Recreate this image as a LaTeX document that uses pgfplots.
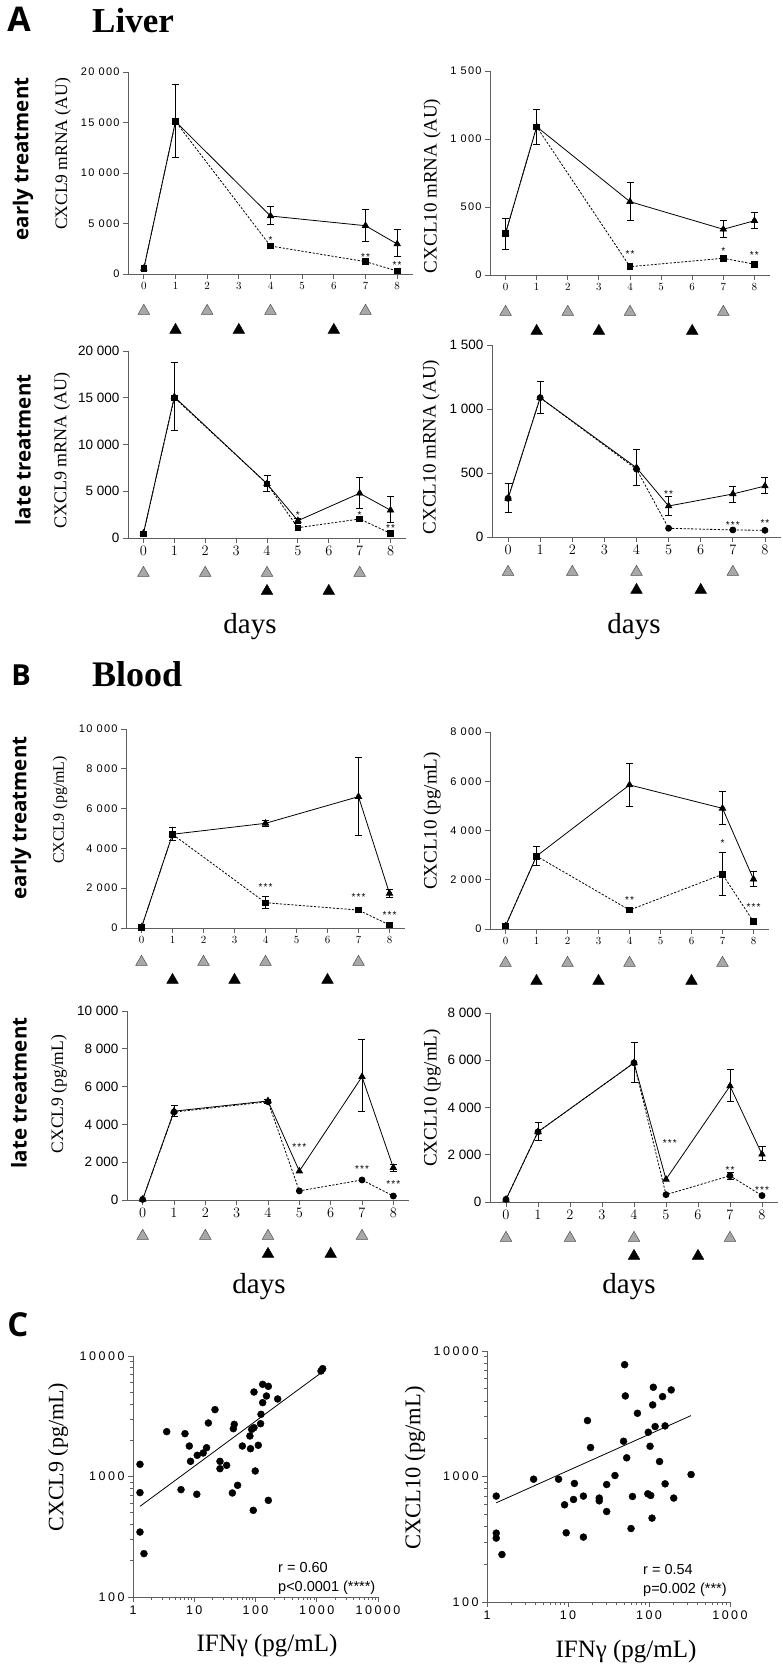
\documentclass[border=0pt]{standalone}
\usepackage{pgfplots}
\pgfplotsset{compat=1.18}
\usepackage{fontspec}
\setmainfont{Liberation Sans}
\newfontfamily\serif{Liberation Serif}
\newfontfamily\spaced[LetterSpace=11]{Liberation Sans}
\newfontfamily\spacedb[LetterSpace=20]{Liberation Sans}
\newfontfamily\osans{Open Sans}
\definecolor{axgray}{RGB}{95,95,95}
\definecolor{trifill}{RGB}{168,168,168}
\definecolor{tridraw}{RGB}{80,80,80}
\newcommand{\starfont}{\spaced\fontsize{10}{10}\selectfont}
\newcommand{\st}[4]{\node[font=\starfont, inner sep=0pt, yshift=#3pt] at (axis cs:#1,#2) {#4};}
\pgfplotsset{
  base/.style={scale only axis, anchor=south west, axis x line*=bottom, axis y line*=left,
    axis line style={draw=axgray, line width=0.9pt, -}, tick style={draw=axgray, line width=0.8pt},
    tick align=outside, major tick length=5pt, minor tick length=3pt, clip=false, scaled ticks=false},
  tc/.style={base, xmin=-0.5, xmax=8.5, ymin=0, xtick={0,...,8}, minor tick num=0},
  early/.style={tick label style={font=\spaced\fontsize{11}{12}\selectfont}},
  late/.style={tick label style={font=\fontsize{13.5}{15}\selectfont}},
  solidser/.style={black, line width=0.8pt, mark=triangle*, mark size=3.6pt, mark options={solid, fill=black}},
  dashsq/.style={black, line width=0.8pt, dash pattern=on 2.2pt off 1.6pt, mark=square*, mark size=2.8pt, mark options={solid, fill=black}},
  dashci/.style={black, line width=0.8pt, dash pattern=on 2.2pt off 1.6pt, mark=*, mark size=3pt, mark options={solid, fill=black}},
  ebar/.style={only marks, mark=none, error bars/.cd, y dir=both, y explicit,
    error bar style={black, line width=0.6pt, solid}, error mark options={black, rotate=90, mark size=3.5pt, line width=0.6pt, solid}},
  grayt/.style={only marks, mark=triangle*, mark size=6.7pt, mark options={fill=trifill, draw=tridraw, line width=0.5pt, yshift=-#1pt}},
  blackt/.style={only marks, mark=triangle*, mark size=6.7pt, mark options={fill=black, draw=black, yshift=-#1pt}},
}
\begin{document}
\begin{tikzpicture}[x=1pt,y=1pt]
\useasboundingbox (0,0) rectangle (782,1667);
% ---------------- Headings
\node[font=\osans\bfseries\fontsize{34}{34}\selectfont] at (19,1648) {A};
\node[font=\serif\bfseries\fontsize{35}{35}\selectfont, anchor=base west, inner sep=0pt] at (92,1634) {Liver};
\node[font=\osans\bfseries\fontsize{29}{29}\selectfont] at (21,992) {B};
\node[font=\serif\bfseries\fontsize{36}{36}\selectfont, anchor=base west, inner sep=0pt] at (92,980) {Blood};
\node[font=\osans\bfseries\fontsize{33}{33}\selectfont] at (18,342) {C};
\node[rotate=90, font=\osans\bfseries\fontsize{20.5}{21}\selectfont] at (23,1508) {early treatment};
\node[rotate=90, font=\osans\bfseries\fontsize{20.5}{21}\selectfont] at (23,1217) {late treatment};
\node[rotate=90, font=\osans\bfseries\fontsize{20.5}{21}\selectfont] at (21,849) {early treatment};
\node[rotate=90, font=\osans\bfseries\fontsize{20.5}{21}\selectfont] at (19,574) {late treatment};
% y labels
\node[rotate=90, font=\serif\fontsize{17.5}{18}\selectfont] at (63,1513) {CXCL9 mRNA (AU)};
\node[rotate=90, font=\serif\fontsize{19}{19}\selectfont] at (432,1481) {CXCL10 mRNA (AU)};
\node[rotate=90, font=\serif\fontsize{18}{18}\selectfont] at (62,1216) {CXCL9 mRNA (AU)};
\node[rotate=90, font=\serif\fontsize{19}{19}\selectfont] at (431,1220) {CXCL10 mRNA (AU)};
\node[rotate=90, font=\serif\fontsize{16}{16}\selectfont] at (60,857) {CXCL9 (pg/mL)};
\node[rotate=90, font=\serif\fontsize{19}{19}\selectfont] at (432,846) {CXCL10 (pg/mL)};
\node[rotate=90, font=\serif\fontsize{17.5}{18}\selectfont] at (59,573) {CXCL9 (pg/mL)};
\node[rotate=90, font=\serif\fontsize{19}{19}\selectfont] at (432,569) {CXCL10 (pg/mL)};
\node[rotate=90, font=\serif\fontsize{22}{22}\selectfont] at (58,210) {CXCL9 (pg/mL)};
\node[rotate=90, font=\serif\fontsize{22.5}{23}\selectfont] at (415,199) {CXCL10 (pg/mL)};
% days / x labels
\node[font=\serif\fontsize{29}{29}\selectfont] at (250,1040) {days};
\node[font=\serif\fontsize{29}{29}\selectfont] at (634,1040) {days};
\node[font=\serif\fontsize{29}{29}\selectfont] at (259,380) {days};
\node[font=\serif\fontsize{29}{29}\selectfont] at (629,380) {days};
\node[font=\serif\fontsize{25}{25}\selectfont] at (267,21) {IFNγ (pg/mL)};
\node[font=\serif\fontsize{25}{25}\selectfont] at (626,15) {IFNγ (pg/mL)};
% stats
\node[font=\fontsize{14.5}{15}\selectfont, anchor=base west, inner sep=0pt] at (278,94) {r = 0.60};
\node[font=\fontsize{14.5}{15}\selectfont, anchor=base west, inner sep=0pt] at (278,75) {p<0.0001 (****)};
\node[font=\fontsize{14.5}{15}\selectfont, anchor=base west, inner sep=0pt] at (643,92) {r = 0.54};
\node[font=\fontsize{14.5}{15}\selectfont, anchor=base west, inner sep=0pt] at (643,73) {p=0.002 (***)};

% ================= Liver early CXCL9
\begin{axis}[tc, early, at={(128pt,1393pt)}, width=285pt, height=202pt, ymax=20000,
  ytick={0,5000,10000,15000,20000}, yticklabels={0,5 000,10 000,15 000,20 000}]
\addplot[ebar] coordinates {(1,15100) += (0,3680) -= (0,3590) (4,5740) += (0,920) -= (0,820) (7,4780) += (0,1660) -= (0,1580) (8,2970) += (0,1450) -= (0,1260)};
\addplot[solidser] coordinates {(0,550) (1,15100) (4,5740) (7,4780) (8,2970)};
\addplot[dashsq] coordinates {(0,550) (1,15100) (4,2770) (7,1220) (8,300)};
\addplot[grayt=37] coordinates {(0,0) (2,0) (4,0) (7,0)};
\addplot[blackt=56] coordinates {(1,0) (3,0) (6,0)};
\st{4}{2770}{6}{*}\st{7}{1220}{5}{**}\st{8}{300}{6}{**}
\end{axis}
% ================= Liver early CXCL10
\begin{axis}[tc, early, at={(490pt,1392pt)}, width=280pt, height=204pt, ymax=1500,
  ytick={0,500,1000,1500}, yticklabels={0,500,1 000,1 500}]
\addplot[ebar] coordinates {(0,306) += (0,111) -= (0,117) (1,1090) += (0,130) -= (0,129) (4,539) += (0,142) -= (0,135) (7,336) += (0,63) -= (0,62) (8,399) += (0,64) -= (0,59)};
\addplot[solidser] coordinates {(0,306) (1,1090) (4,539) (7,336) (8,399)};
\addplot[dashsq] coordinates {(0,306) (1,1090) (4,61) (7,123) (8,79)};
\addplot[grayt=37] coordinates {(0,0) (2,0) (4,0) (7,0)};
\addplot[blackt=56] coordinates {(1,0) (3,0) (6,0)};
\st{4}{61}{13}{**}\st{7}{123}{7}{*}\st{8}{79}{9}{**}
\end{axis}
% ================= Liver late CXCL9
\begin{axis}[tc, late, at={(128pt,1129pt)}, width=278pt, height=187pt, ymax=20000,
  ytick={0,5000,10000,15000,20000}, yticklabels={0,5 000,10 000,15 000,20 000}]
\addplot[ebar] coordinates {(1,15100) += (0,3680) -= (0,3590) (4,5800) += (0,870) -= (0,850) (5,1850) += (0,250) -= (0,250) (7,4780) += (0,1660) -= (0,1580) (8,2970) += (0,1450) -= (0,1260)};
\addplot[solidser] coordinates {(0,500) (1,15100) (4,5800) (5,1850) (7,4780) (8,2970)};
\addplot[dashsq] coordinates {(0,450) (1,15000) (4,5800) (5,1100) (7,2030) (8,500)};
\addplot[grayt=35] coordinates {(0,0) (2,0) (4,0) (7,0)};
\addplot[blackt=53] coordinates {(4,0) (6,0)};
\st{5}{1850}{6}{*}\st{7}{2030}{4}{*}\st{8}{500}{5}{**}
\end{axis}
% ================= Liver late CXCL10
\begin{axis}[tc, late, at={(492pt,1130pt)}, width=289pt, height=192pt, ymax=1500,
  ytick={0,500,1000,1500}, yticklabels={0,500,1 000,1 500}]
\addplot[ebar] coordinates {(0,302) += (0,117) -= (0,112) (1,1088) += (0,125) -= (0,122) (4,541) += (0,144) -= (0,135) (5,242) += (0,78) -= (0,70) (7,336) += (0,63) -= (0,62) (8,398) += (0,65) -= (0,58)};
\addplot[solidser] coordinates {(0,302) (1,1088) (4,541) (5,242) (7,336) (8,398)};
\addplot[dashci] coordinates {(0,302) (1,1088) (4,530) (5,68) (7,55) (8,52)};
\addplot[grayt=35] coordinates {(0,0) (2,0) (4,0) (7,0)};
\addplot[blackt=53] coordinates {(4,0) (6,0)};
\st{5}{242}{12}{**}\st{7}{55}{5}{***}\st{8}{52}{7}{**}
\end{axis}
% ================= Blood early CXCL9
\begin{axis}[tc, early, at={(126pt,739pt)}, width=279pt, height=199pt, ymax=10000,
  ytick={0,2000,4000,6000,8000,10000}, yticklabels={0,2 000,4 000,6 000,8 000,10 000}]
\addplot[ebar] coordinates {(1,4710) += (0,330) -= (0,290) (4,5260) += (0,150) -= (0,150) (7,6600) += (0,1960) -= (0,1930) (8,1740) += (0,200) -= (0,200) (4,1270) += (0,300) -= (0,300)};
\addplot[solidser] coordinates {(0,35) (1,4710) (4,5260) (7,6600) (8,1740)};
\addplot[dashsq] coordinates {(0,35) (1,4710) (4,1270) (7,900) (8,150)};
\addplot[grayt=34] coordinates {(0,0) (2,0) (4,0) (7,0)};
\addplot[blackt=52] coordinates {(1,0) (3,0) (6,0)};
\st{4}{1270}{16}{***}\st{7}{900}{13}{***}\st{8}{150}{10}{***}
\end{axis}
% ================= Blood early CXCL10
\begin{axis}[tc, early, at={(490pt,738pt)}, width=279pt, height=197pt, ymax=8000,
  ytick={0,2000,4000,6000,8000}, yticklabels={0,2 000,4 000,6 000,8 000}]
\addplot[ebar] coordinates {(1,2960) += (0,380) -= (0,360) (4,5850) += (0,870) -= (0,860) (7,4900) += (0,680) -= (0,640) (8,2020) += (0,310) -= (0,300) (7,2220) += (0,890) -= (0,870)};
\addplot[solidser] coordinates {(0,120) (1,2960) (4,5850) (7,4900) (8,2020)};
\addplot[dashsq] coordinates {(0,120) (1,2960) (4,770) (7,2220) (8,300)};
\addplot[grayt=34] coordinates {(0,0) (2,0) (4,0) (7,0)};
\addplot[blackt=52] coordinates {(1,0) (3,0) (6,0)};
\st{4}{770}{10}{**}\st{7}{2220}{31}{*}\st{8}{300}{15}{***}
\end{axis}
% ================= Blood late CXCL9
\begin{axis}[tc, late, at={(127pt,467pt)}, width=282pt, height=189pt, ymax=10000,
  ytick={0,2000,4000,6000,8000,10000}, yticklabels={0,2 000,4 000,6 000,8 000,10 000}]
\addplot[ebar] coordinates {(1,4700) += (0,330) -= (0,290) (4,5240) += (0,100) -= (0,100) (7,6520) += (0,1980) -= (0,1850) (8,1710) += (0,200) -= (0,200)};
\addplot[solidser] coordinates {(0,30) (1,4700) (4,5240) (5,1530) (7,6520) (8,1710)};
\addplot[dashci] coordinates {(0,30) (1,4650) (4,5200) (5,480) (7,1060) (8,210)};
\addplot[grayt=36] coordinates {(0,0) (2,0) (4,0) (7,0)};
\addplot[blackt=54] coordinates {(4,0) (6,0)};
\st{5}{1530}{24}{***}\st{7}{1060}{11}{***}\st{8}{210}{12}{***}
\end{axis}
% ================= Blood late CXCL10
\begin{axis}[tc, late, at={(490pt,465pt)}, width=288pt, height=189pt, ymax=8000,
  ytick={0,2000,4000,6000,8000}, yticklabels={0,2 000,4 000,6 000,8 000}]
\addplot[ebar] coordinates {(1,2970) += (0,400) -= (0,350) (4,5890) += (0,860) -= (0,840) (7,4910) += (0,700) -= (0,640) (8,2020) += (0,320) -= (0,270) (7,1110) += (0,150) -= (0,150)};
\addplot[solidser] coordinates {(0,110) (1,2970) (4,5890) (5,960) (7,4910) (8,2020)};
\addplot[dashci] coordinates {(0,110) (1,2970) (4,5890) (5,310) (7,1110) (8,270)};
\addplot[grayt=36] coordinates {(0,0) (2,0) (4,0) (7,0)};
\addplot[blackt=54] coordinates {(4,0) (6,0)};
\st{5.12}{960}{36}{***}\st{7}{1110}{6}{**}\st{8}{270}{6}{***}
\end{axis}
% ================= Scatter CXCL9 vs IFNg
\begin{axis}[base, at={(133pt,70pt)}, width=245pt, height=241pt, xmode=log, ymode=log,
  xmin=1, xmax=10000, ymin=100, ymax=10000,
  xtick={1,10,100,1000,10000}, xticklabels={1,10,100,1000,10000},
  ytick={100,1000,10000}, yticklabels={100,1000,10000},
  tick label style={font=\spacedb\fontsize{12.5}{13}\selectfont}]
\addplot[only marks, mark=*, mark size=3.5pt, black] coordinates {
(1.3,1262) (1.3,735) (1.3,346) (1.51,229) (3.55,2355) (6.08,778) (7.06,2266) (8.3,1790)
(8.7,1336) (11,712) (11.2,1500) (14,1567) (15.9,1733) (17,2780) (21.8,3589) (26.3,1336)
(26.3,1161) (33.8,1238) (41.9,730) (43.5,2493) (45,2710) (51,845) (61,1790) (81,2168)
(83,1702) (86.5,2460) (92,524) (94.5,5025) (94.5,2541) (99,1111) (111,1816) (121,2742)
(123,3281) (131,4100) (131,5820) (151,4656) (162,5600) (162,634) (230,4400) (1175,7510)
(1250,7853)};
\addplot[black, line width=0.8pt, mark=none] coordinates {(1.3,565) (1200,7300)};
\end{axis}
% ================= Scatter CXCL10 vs IFNg
\begin{axis}[base, at={(487pt,65pt)}, width=243pt, height=251pt, xmode=log, ymode=log,
  xmin=1, xmax=1000, ymin=100, ymax=10000,
  xtick={1,10,100,1000}, xticklabels={1,10,100,1000},
  ytick={100,1000,10000}, yticklabels={100,1000,10000},
  tick label style={font=\spacedb\fontsize{12.5}{13}\selectfont}]
\addplot[only marks, mark=*, mark size=3.5pt, black] coordinates {
(1.3,698) (1.3,354) (1.3,323) (1.53,239) (3.76,952) (7.65,952) (9.07,595) (9.5,356)
(12,880) (11.7,656) (15.5,698) (15.5,329) (17.4,2790) (19,1702) (24.3,673) (24.3,640)
(30,526) (30,863) (38,1018) (48.5,1910) (50,7780) (51,4385) (53,1409) (60,385)
(62.5,693) (72,3190) (96.6,728) (98,2253) (103,1742) (105,706) (109,466) (111,3720)
(113,5140) (119,2500) (135,1316) (147,4330) (158,2530) (158,874) (188,4895) (202,673)
(331,1037)};
\addplot[black, line width=0.8pt, mark=none] coordinates {(1.3,617) (330,3057)};
\end{axis}
\end{tikzpicture}
\end{document}
